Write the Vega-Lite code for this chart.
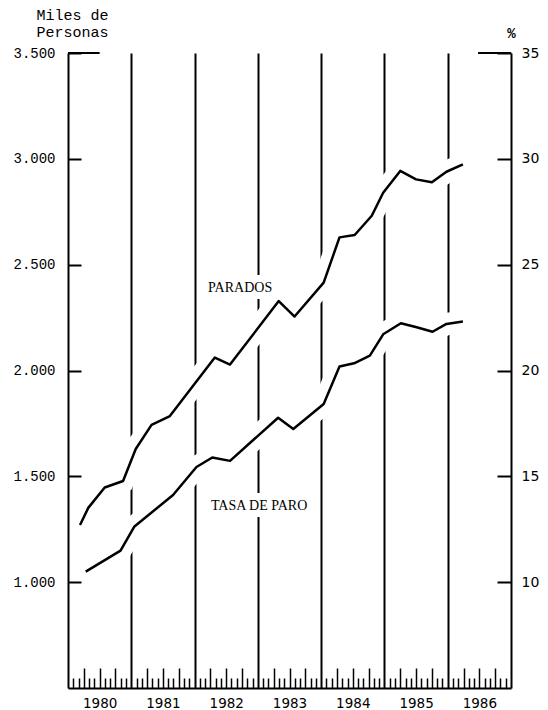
{
  "$schema": "https://vega.github.io/schema/vega-lite/v6.json",
  "width": 443,
  "height": 635,
  "autosize": "none",
  "padding": {"left": 68, "top": 53, "right": 37, "bottom": 22},
  "background": "white",
  "config": {
    "view": {"stroke": null},
    "axis": {"grid": false, "domainColor": "black", "tickColor": "black", "labelColor": "black", "titleColor": "black", "labelOverlap": false}
  },
  "datasets": {
    "parados": [
      {"t": 1980.19, "v": 1270}, {"t": 1980.32, "v": 1351}, {"t": 1980.58, "v": 1447}, {"t": 1980.87, "v": 1478},
      {"t": 1981.07, "v": 1629}, {"t": 1981.32, "v": 1743}, {"t": 1981.61, "v": 1785},
      {"t": 1982.32, "v": 2061}, {"t": 1982.56, "v": 2028},
      {"t": 1983.33, "v": 2328}, {"t": 1983.58, "v": 2255},
      {"t": 1984.04, "v": 2415}, {"t": 1984.29, "v": 2629}, {"t": 1984.53, "v": 2640}, {"t": 1984.80, "v": 2731},
      {"t": 1984.98, "v": 2840}, {"t": 1985.25, "v": 2943}, {"t": 1985.50, "v": 2903}, {"t": 1985.75, "v": 2889},
      {"t": 1985.98, "v": 2939}, {"t": 1986.24, "v": 2974}
    ],
    "tasa": [
      {"t": 1980.28, "v": 10.5}, {"t": 1980.83, "v": 11.49}, {"t": 1981.05, "v": 12.63}, {"t": 1981.66, "v": 14.12},
      {"t": 1982.03, "v": 15.44}, {"t": 1982.28, "v": 15.89}, {"t": 1982.56, "v": 15.73},
      {"t": 1983.32, "v": 17.77}, {"t": 1983.56, "v": 17.24},
      {"t": 1984.04, "v": 18.42}, {"t": 1984.29, "v": 20.19}, {"t": 1984.52, "v": 20.34}, {"t": 1984.77, "v": 20.70},
      {"t": 1984.98, "v": 21.71}, {"t": 1985.26, "v": 22.23}, {"t": 1985.51, "v": 22.04}, {"t": 1985.76, "v": 21.83},
      {"t": 1985.98, "v": 22.20}, {"t": 1986.24, "v": 22.31}
    ],
    "labels": [
      {"label": "PARADOS", "t": 1982.72, "v": 2390},
      {"label": "TASA DE PARO", "t": 1983.02, "v": 1360}
    ]
  },
  "layer": [
    {
      "data": {"name": "parados"},
      "mark": {"type": "line", "strokeWidth": 22, "stroke": "white", "strokeOpacity": 1},
      "encoding": {
        "x": {
          "field": "t", "type": "quantitative",
          "scale": {"domain": [1980, 1987], "nice": false, "zero": false},
          "axis": {
            "orient": "bottom", "title": null, "labels": false, "ticks": false, "domain": false,
            "grid": true, "gridColor": "black", "gridWidth": 2, "gridOpacity": 1, "zindex": 0,
            "values": [1981, 1982, 1983, 1984, 1985, 1986]
          }
        },
        "y": {"field": "v", "type": "quantitative", "scale": {"domain": [500, 3500], "nice": false, "zero": false}, "axis": null}
      }
    },
    {
      "data": {"name": "tasa"},
      "mark": {"type": "line", "strokeWidth": 22, "stroke": "white", "strokeOpacity": 1},
      "encoding": {
        "x": {
          "field": "t", "type": "quantitative",
          "scale": {"domain": [1980, 1987], "nice": false, "zero": false},
          "axis": {
            "orient": "bottom", "title": null, "labels": false, "domain": true, "domainWidth": 2,
            "tickSize": -10, "tickWidth": 1.5,
            "values": [1980.0833, 1980.1667, 1980.3333, 1980.4167, 1980.5833, 1980.6667, 1980.8333, 1980.9167,
                       1981.0833, 1981.1667, 1981.3333, 1981.4167, 1981.5833, 1981.6667, 1981.8333, 1981.9167,
                       1982.0833, 1982.1667, 1982.3333, 1982.4167, 1982.5833, 1982.6667, 1982.8333, 1982.9167,
                       1983.0833, 1983.1667, 1983.3333, 1983.4167, 1983.5833, 1983.6667, 1983.8333, 1983.9167,
                       1984.0833, 1984.1667, 1984.3333, 1984.4167, 1984.5833, 1984.6667, 1984.8333, 1984.9167,
                       1985.0833, 1985.1667, 1985.3333, 1985.4167, 1985.5833, 1985.6667, 1985.8333, 1985.9167,
                       1986.0833, 1986.1667, 1986.3333, 1986.4167, 1986.5833, 1986.6667, 1986.8333, 1986.9167]
          }
        },
        "y": {"field": "v", "type": "quantitative", "scale": {"domain": [5, 35], "nice": false, "zero": false}, "axis": null}
      }
    },
    {
      "data": {"name": "labels"},
      "mark": {"type": "text", "font": "Liberation Serif", "fontSize": 14, "fill": "white", "stroke": "white", "strokeWidth": 14, "align": "center", "baseline": "middle"},
      "encoding": {
        "x": {"field": "t", "type": "quantitative", "scale": {"domain": [1980, 1987], "nice": false, "zero": false}, "axis": null},
        "y": {"field": "v", "type": "quantitative", "scale": {"domain": [500, 3500], "nice": false, "zero": false}, "axis": null},
        "text": {"field": "label"}
      }
    },
    {
      "data": {"name": "parados"},
      "mark": {"type": "line", "strokeWidth": 2.5, "color": "black", "strokeJoin": "round"},
      "encoding": {
        "x": {
          "field": "t", "type": "quantitative",
          "scale": {"domain": [1980, 1987], "nice": false, "zero": false},
          "axis": {
            "orient": "bottom", "title": null, "labels": false, "domain": false,
            "tickSize": -20, "tickWidth": 1.5,
            "values": [1980.25, 1980.5, 1980.75, 1981.25, 1981.5, 1981.75, 1982.25, 1982.5, 1982.75,
                       1983.25, 1983.5, 1983.75, 1984.25, 1984.5, 1984.75, 1985.25, 1985.5, 1985.75,
                       1986.25, 1986.5, 1986.75]
          }
        },
        "y": {
          "field": "v", "type": "quantitative",
          "scale": {"domain": [500, 3500], "nice": false, "zero": false},
          "axis": {
            "orient": "left",
            "values": [1000, 1500, 2000, 2500, 3000, 3500],
            "labelExpr": "replace(format(datum.value, ','), ',', '.')",
            "tickSize": -13, "tickWidth": 2, "domainWidth": 2,
            "labelPadding": 26, "labelFont": "Liberation Mono", "labelFontSize": 14,
            "title": ["Miles de", "Personas"],
            "titleFont": "Liberation Mono", "titleFontSize": 15, "titleFontWeight": "normal",
            "titleAngle": 0, "titleAlign": "center", "titleBaseline": "alphabetic",
            "titleX": 4, "titleY": -34, "titleLineHeight": 17
          }
        }
      }
    },
    {
      "data": {"name": "tasa"},
      "mark": {"type": "line", "strokeWidth": 2.5, "color": "black", "strokeJoin": "round"},
      "encoding": {
        "x": {
          "field": "t", "type": "quantitative",
          "scale": {"domain": [1980, 1987], "nice": false, "zero": false},
          "axis": {
            "orient": "bottom", "title": null, "ticks": false, "domain": false,
            "values": [1980.5, 1981.5, 1982.5, 1983.5, 1984.5, 1985.5, 1986.5],
            "labelExpr": "'' + floor(datum.value)",
            "labelPadding": 8, "labelFont": "DejaVu Sans", "labelFontSize": 13.5, "labelFlush": false
          }
        },
        "y": {
          "field": "v", "type": "quantitative",
          "scale": {"domain": [5, 35], "nice": false, "zero": false},
          "axis": {
            "orient": "right",
            "values": [10, 15, 20, 25, 30, 35],
            "tickSize": -14, "tickWidth": 2, "domainWidth": 2,
            "labelPadding": 24, "labelFont": "DejaVu Sans", "labelFontSize": 14,
            "title": "%", "titleFont": "Liberation Mono", "titleFontSize": 14, "titleFontWeight": "bold",
            "titleAngle": 0, "titleAlign": "center", "titleBaseline": "alphabetic",
            "titleX": 0, "titleY": -16
          }
        }
      }
    },
    {
      "data": {"name": "labels"},
      "mark": {"type": "text", "font": "Liberation Serif", "fontSize": 14, "color": "black", "align": "center", "baseline": "middle"},
      "encoding": {
        "x": {"field": "t", "type": "quantitative", "scale": {"domain": [1980, 1987], "nice": false, "zero": false}, "axis": null},
        "y": {"field": "v", "type": "quantitative", "scale": {"domain": [500, 3500], "nice": false, "zero": false}, "axis": null},
        "text": {"field": "label"}
      }
    },
    {
      "data": {"values": [{}]},
      "mark": {"type": "rule", "strokeWidth": 2, "color": "black"},
      "encoding": {
        "x": {"datum": 1980, "type": "quantitative", "scale": {"domain": [1980, 1987], "nice": false, "zero": false}, "axis": null},
        "x2": {"datum": 1980.5},
        "y": {"datum": 3500, "type": "quantitative", "scale": {"domain": [500, 3500], "nice": false, "zero": false}, "axis": null}
      }
    },
    {
      "data": {"values": [{}]},
      "mark": {"type": "rule", "strokeWidth": 2, "color": "black"},
      "encoding": {
        "x": {"datum": 1986.48, "type": "quantitative", "scale": {"domain": [1980, 1987], "nice": false, "zero": false}, "axis": null},
        "x2": {"datum": 1987},
        "y": {"datum": 35, "type": "quantitative", "scale": {"domain": [5, 35], "nice": false, "zero": false}, "axis": null}
      }
    }
  ],
  "resolve": {"scale": {"y": "independent"}, "axis": {"x": "independent", "y": "independent"}}
}
